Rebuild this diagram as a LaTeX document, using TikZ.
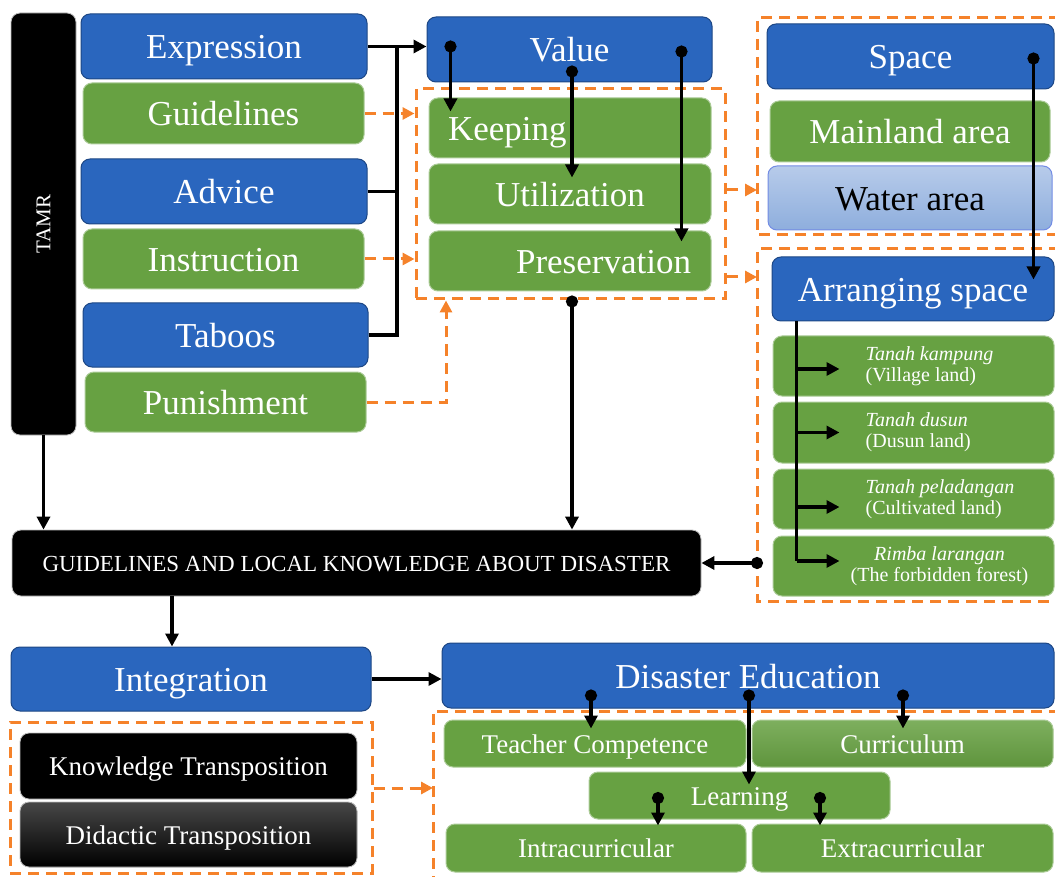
\documentclass[tikz,border=0pt]{standalone}
\usepackage{fontspec}
\setmainfont{Liberation Serif}
\usetikzlibrary{arrows.meta,positioning,calc}

\definecolor{boxblue}{HTML}{2A66BE}
\definecolor{boxgreen}{HTML}{67A142}
\definecolor{dashorange}{HTML}{F5822A}
\definecolor{waterlight}{HTML}{B7CBEA}
\definecolor{waterdark}{HTML}{8EAEDD}

\tikzset{
  sz/.style 2 args={minimum width=#1pt, minimum height=#2pt},
  box/.style={rounded corners=9pt, align=center, inner sep=0pt},
  bluebox/.style={box, fill=boxblue, draw=boxblue!70!black, line width=1pt, text=white},
  greenbox/.style={box, fill=boxgreen, draw=boxgreen!55!white, line width=1pt, text=white},
  blackbox/.style={box, fill=black, draw=gray!50, line width=0.8pt, text=white},
  waterbox/.style={box, top color=waterlight, bottom color=waterdark, draw=waterdark!80!blue, line width=1pt, text=black},
  big/.style={font=\fontsize{35}{40}\selectfont, text height=25pt, text depth=0pt},
  mid/.style={font=\fontsize{27}{31}\selectfont, text height=19pt, text depth=0pt},
  landtxt/.style={font=\fontsize{20}{21}\selectfont, text=white, inner sep=0pt},
  conn/.style={line width=3.6pt, -{Triangle[length=13pt,width=13pt]}},
  dotconn/.style={line width=3.6pt, {Circle[length=12pt]}-{Triangle[length=13pt,width=13pt]}},
  grp/.style={draw=dashorange, line width=3pt, dash pattern=on 11pt off 7pt},
  grpbox/.style={grp, inner sep=0pt},
  grparr/.style={grp, -{Triangle[length=12pt,width=12pt]}},
}

\begin{document}
\begin{tikzpicture}[x=1pt, y=-1pt]
  \useasboundingbox (0,0) rectangle (1055,877);

  % 虛線群組框
  \node[grpbox, sz={309}{210}] (valgrp) at (570.5,194) {};
  \node[grpbox, sz={362}{151}] (transgrp) at (191,797.5) {};
  \draw[grp] (1060,18) -| (757,235) -- (1060,235);
  \draw[grp] (1060,249) -| (757,601) -- (1060,601);
  \draw[grp] (1060,711) -| (433,880);
  \coordinate (sgw) at (757,0);
  \coordinate (agw) at (763,0);
  \coordinate (egw) at (433,0);

  % 左欄:TAMR 與規範來源
  \node[blackbox, sz={65}{422}] (tamr) at (43.5,224) {};
  \node[rotate=90, text=white, font=\fontsize{21}{24}\selectfont] (tamrtxt) at (tamr.center) {TAMR};
  \node[bluebox, big, sz={286}{65}] (expr) at (224,46.5) {Expression};
  \node[greenbox, big, sz={281}{61}] (guide) at (223.5,113.5) {Guidelines};
  \node[bluebox, big, sz={286}{65}] (advice) at (224,191.5) {Advice};
  \node[greenbox, big, sz={281}{60}] (instr) at (223.5,259) {Instruction};
  \node[bluebox, big, sz={285}{64}] (taboo) at (225.5,335) {Taboos};
  \node[greenbox, big, sz={281}{60}] (punish) at (225.5,402) {Punishment};

  % 中欄:價值
  \node[bluebox, big, sz={285}{65}] (value) at (569.5,49.5) {Value};
  \node[greenbox, big, sz={282}{60}, text width=244pt, align=left] (keep) at (570,128) {Keeping};
  \node[greenbox, big, sz={282}{60}] (util) at (570,194) {Utilization};
  \node[greenbox, big, sz={282}{60}, text width=242pt, align=right] (pres) at (570,261) {Preservation};

  % 右欄:空間
  \node[bluebox, big, sz={287}{65}] (space) at (910.5,56.5) {Space};
  \node[greenbox, big, sz={280}{61}] (mainland) at (910,131.5) {Mainland area};
  \node[waterbox, big, sz={284}{64}] (water) at (910,198) {Water area};
  \node[bluebox, big, sz={282}{64}] (arrange) at (913,289) {Arranging space};
  \node[greenbox, sz={281}{60}] (kampung) at (913.5,366) {};
  \node[greenbox, sz={281}{61}] (dusun) at (913.5,432.5) {};
  \node[greenbox, sz={281}{60}] (ladang) at (913.5,499) {};
  \node[greenbox, sz={281}{60}] (rimba) at (913.5,566) {};
  \node[landtxt, anchor=west, align=left] (kampungtxt) at ([xshift=93pt]kampung.west) {\textit{Tanah kampung}\\(Village land)};
  \node[landtxt, anchor=west, align=left] (dusuntxt) at ([xshift=93pt]dusun.west) {\textit{Tanah dusun}\\(Dusun land)};
  \node[landtxt, anchor=west, align=left] (ladangtxt) at ([xshift=93pt]ladang.west) {\textit{Tanah peladangan}\\(Cultivated land)};
  \node[landtxt, align=center] (rimbatxt) at ([xshift=26pt]rimba.center) {\textit{Rimba larangan}\\(The forbidden forest)};

  % 下半部
  \node[blackbox, sz={689}{66}, font=\fontsize{23}{26}\selectfont, text height=16pt, text depth=0pt] (glk) at (356.5,563) {GUIDELINES AND LOCAL KNOWLEDGE ABOUT DISASTER};
  \node[bluebox, big, sz={360}{64}] (integ) at (191,679) {Integration};
  \node[bluebox, big, sz={612}{65}] (disedu) at (748,675.5) {Disaster Education};
  \node[blackbox, mid, sz={337}{66}] (ktrans) at (188.5,766) {Knowledge Transposition};
  \node[blackbox, mid, sz={337}{65}, top color=black!72, middle color=black!95, bottom color=black] (dtrans) at (188.5,834.5) {Didactic Transposition};
  \node[greenbox, mid, sz={302}{47}] (teacher) at (595,743.5) {Teacher Competence};
  \node[greenbox, mid, sz={301}{47}, top color=boxgreen!85!white, bottom color=boxgreen!92!black] (curric) at (902.5,743.5) {Curriculum};
  \node[greenbox, mid, sz={301}{47}] (learn) at (739.5,795.5) {Learning};
  \node[greenbox, mid, sz={300}{48}] (intra) at (596,848) {Intracurricular};
  \node[greenbox, mid, sz={301}{48}] (extra) at (902.5,848) {Extracurricular};

  % 黑色連線
  \coordinate (bus) at (397,46.5);
  \draw[conn] (expr.east) -- (expr.east -| value.west);
  \draw[line width=3.6pt] (advice.east) -| (bus);
  \draw[line width=3.6pt] (taboo.east) -| (bus);
  \draw[dotconn] ([xshift=24pt,yshift=-24pt]value.north west) -- ([xshift=22pt,yshift=-14pt]keep.north west);
  \draw[dotconn] ([xshift=2.5pt,yshift=17pt]value.south) -- ([xshift=2pt,yshift=-14pt]util.north);
  \draw[dotconn] ([xshift=-31pt,yshift=-29pt]value.north east) -- ([xshift=-30pt,yshift=-11pt]pres.north east);
  \draw[dotconn] ([xshift=-21pt,yshift=-29pt]space.north east) -- ([xshift=-21pt,yshift=-23pt]arrange.north east);
  \coordinate (vb) at ([xshift=1.5pt,yshift=5pt]valgrp.south);
  \draw[dotconn] (vb) -- (vb |- glk.north);
  \draw[conn] (tamr.south) -- (tamr.south |- glk.north);

  % 空間配置的分支
  \coordinate (trunk) at ([xshift=25pt]arrange.south west);
  \draw[line width=3.6pt] (trunk) -- ([xshift=24pt,yshift=5pt]rimba.west);
  \foreach \n/\dy in {kampung/-3, dusun/0, ladang/-8, rimba/5}
    \draw[conn] ([xshift=24pt,yshift=\dy pt]\n.west) -- ([xshift=67pt,yshift=\dy pt]\n.west);
  \draw[dotconn] (glk.east -| agw) -- (glk.east);

  \coordinate (k1) at ([xshift=-184.5pt]glk.south);
  \draw[conn] (k1) -- (k1 |- integ.north);
  \draw[conn] (integ.east) -- (integ.east -| disedu.west);
  \draw[dotconn] ([xshift=-157pt,yshift=19pt]disedu.south) -- ([xshift=-4pt,yshift=-9pt]teacher.north);
  \draw[dotconn] ([xshift=1pt,yshift=19pt]disedu.south) -- ([xshift=9.5pt,yshift=-13pt]learn.north);
  \draw[dotconn] ([xshift=155pt,yshift=19pt]disedu.south) -- ([xshift=0.5pt,yshift=-9pt]curric.north);
  \draw[dotconn] ([xshift=-81.5pt,yshift=3.5pt]learn.center) -- ([xshift=62pt,yshift=-2pt]intra.north);
  \draw[dotconn] ([xshift=80.5pt,yshift=3.5pt]learn.center) -- ([xshift=-82.5pt,yshift=-2pt]extra.north);

  % 橘色虛線箭頭
  \draw[grparr] (guide.east) -- (guide.east -| valgrp.west);
  \draw[grparr] (instr.east) -- (instr.east -| valgrp.west);
  \draw[grparr] (punish.east) -| ([xshift=-124.5pt]valgrp.south);
  \draw[grparr] ([yshift=4pt]valgrp.east) -- ([yshift=4pt]valgrp.east -| sgw);
  \draw[grparr] ([yshift=-83pt]valgrp.east) -- ([yshift=-83pt]valgrp.east -| sgw);
  \draw[grparr] ([yshift=9.5pt]transgrp.east) -- ([yshift=9.5pt]transgrp.east -| egw);
\end{tikzpicture}
\end{document}
